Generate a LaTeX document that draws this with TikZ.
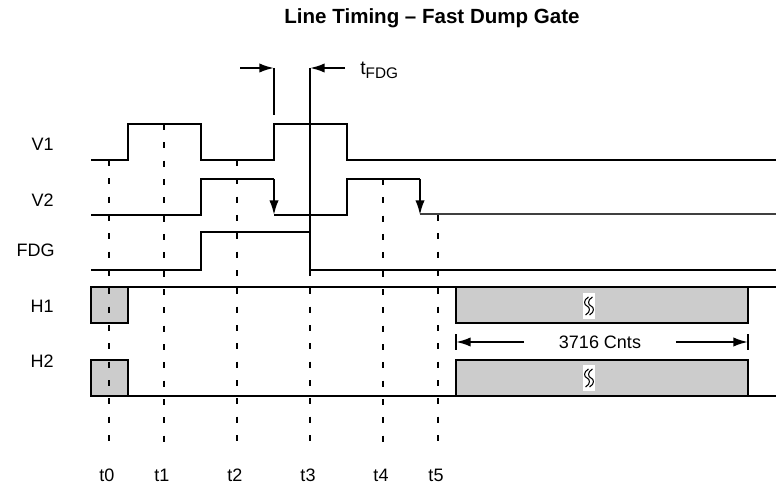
\documentclass[tikz,border=0pt]{standalone}
\usepackage{fontspec}
\setmainfont{Liberation Sans}
\usetikzlibrary{arrows.meta,positioning}
\definecolor{boxgray}{RGB}{204,204,204}

\tikzset{
  sig/.style={line width=1.5pt},
  tmark/.style={line width=1.5pt, dash pattern=on 4.5pt off 9.25pt},
  lab/.style={inner sep=0pt, font=\fontsize{13.5}{16}\selectfont},
  drop/.style={sig, -{Latex[length=11pt,width=7pt]}},
  hbox/.style={sig, fill=boxgray},
  brk/.pic={
    \fill[white] (-6,-13) rectangle (6,13);
    \foreach \d in {-2,2}
      \draw[line width=0.8pt] (\d+1.5,-9) .. controls (\d-4,-6) and (\d-3,-1) .. (\d,0)
        .. controls (\d+3,1) and (\d+4,6) .. (\d-1.5,9);
  }
}

\begin{document}
\begin{tikzpicture}[x=0.75pt, y=-0.75pt]
  \useasboundingbox (0,0) rectangle (776,485);

  % title
  \node[font=\bfseries\fontsize{15.4}{18}\selectfont] (title) at (432,18) {Line Timing -- Fast Dump Gate};

  % signal names
  \node[lab, anchor=east] (nV1) at (54,144.5) {V1};
  \node[lab, anchor=east] (nV2) at (54,200) {V2};
  \node[lab, anchor=east] (nFDG) at (55,250) {FDG};
  \node[lab, anchor=east] (nH1) at (54,306) {H1};
  \node[lab, anchor=east] (nH2) at (54,361) {H2};

  % time names
  \foreach \n/\x in {0/107,1/162,2/235,3/308,4/381,5/436}
    \node[lab] (t\n) at (\x,475) {t\n};

  % H1 and H2 rails with pixel blocks
  \draw[sig] (91,287) -- (776,287);
  \draw[sig] (91,396) -- (776,396);
  \draw[hbox] (91,287) rectangle (128,323);
  \draw[hbox] (456,287) rectangle (748,323);
  \draw[hbox] (91,360) rectangle (128,396);
  \draw[hbox] (456,360) rectangle (748,396);
  \pic at (589,306) {brk};
  \pic at (589,378) {brk};

  % 3716 counts
  \node[lab, fill=white, inner xsep=26pt, inner ysep=3pt] (cnts) at (600,342) {3716 Cnts};
  \draw[sig, -{Latex[length=11pt,width=7pt]}] (cnts.west) -- (456,342);
  \draw[sig, -{Latex[length=11pt,width=7pt]}] (cnts.east) -- (748,342);
  \draw[sig] (456,334) -- (456,350);
  \draw[sig] (748,334) -- (748,350);

  % time marks
  \draw[tmark] (109,160) -- (109,450);
  \draw[tmark] (164,124) -- (164,450);
  \draw[tmark] (237,160) -- (237,450);
  \draw[tmark] (310,270) -- (310,450);
  \draw[tmark] (383,179) -- (383,450);
  \draw[tmark] (438,215) -- (438,450);

  % V1
  \draw[sig] (91,160) -- (128,160) -- (128,124) -- (201,124) -- (201,160)
    -- (274,160) -- (274,124) -- (347,124) -- (347,160) -- (776,160);

  % V2
  \draw[sig] (91,215) -- (201,215) -- (201,179) -- (274,179);
  \draw[drop] (274,179) -- (274,215);
  \draw[sig] (274,215) -- (347,215) -- (347,179) -- (420,179);
  \draw[drop] (420,179) -- (420,215);
  \draw[line width=1.1pt, black!75] (420,214) -- (776,214);

  % FDG
  \draw[sig] (91,270) -- (201,270) -- (201,232) -- (310,232) -- (310,270) -- (776,270);

  % tFDG window
  \draw[sig] (274,68) -- (274,115);
  \draw[sig] (310,68) -- (310,270);
  \draw[drop] (240,68) -- (274,68);
  \draw[drop] (345,68) -- (310,68);
  \node[inner sep=0pt, font=\fontsize{14.5}{16}\selectfont, anchor=base west] (tfdg) at (360,75)
    {t\raisebox{-3pt}{\fontsize{11.5}{13}\selectfont FDG}};
\end{tikzpicture}
\end{document}
